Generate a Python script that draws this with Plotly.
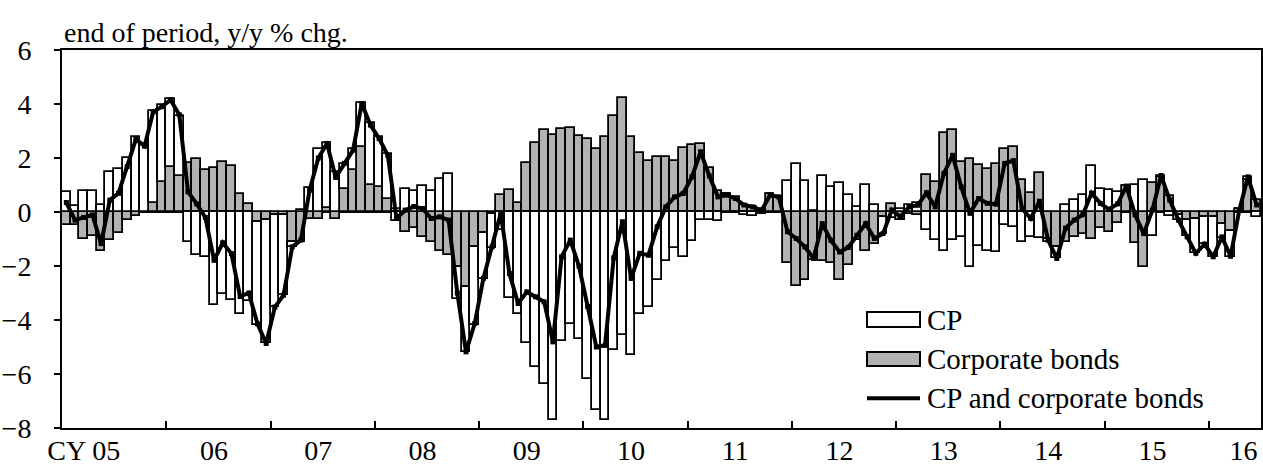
import pandas as pd
import plotly.graph_objects as go

# monthly, Jan 2005 - Jun 2016
months = pd.date_range("2005-01-01", "2016-06-01", freq="MS")

cp = [0.75, 0.23, 0.77, 0.77, 0.27, 1.47, 1.58, 2.0, 2.76, 2.48, 3.41, 2.84,
      2.49, 2.22, -1.1, -1.6, -1.67, -3.45, -3.05, -3.27, -3.79, -3.3, -3.83, -4.57,
      -3.42, -2.98, -0.18, 0.06, 0.9, 2.35, 2.41, 1.5, 0.92, 0.77, 1.63, 2.28,
      1.86, 1.64, -0.35, 0.85, 0.78, 0.96, 0.78, 1.24, 1.39, -1.17, -2.41, -2.9,
      -1.7, -1.23, -0.67, -3.2, -3.77, -4.84, -5.74, -6.36, -7.7, -4.79, -4.14, -4.71,
      -6.2, -7.35, -7.69, -5.12, -4.57, -5.28, -3.77, -3.52, -2.5, -1.83, -1.35, -1.67,
      -1.09, -0.31, -0.3, -0.33, 0.0, -0.05, -0.1, -0.16, -0.08, 0.0, 0.0, 1.15,
      1.76, 1.15, 0.05, 1.33, 0.93, 1.06, 0.64, 0.2, 0.99, 0.25, -0.6, -0.24,
      0.1, 0.25, 0.35, -0.68, -1.05, -1.44, -1.05, -0.93, -2.04, -1.25, -1.44, -1.48,
      -0.49, -0.55, -1.1, -0.93, -0.98, -0.1, -0.4, 0.27, 0.46, 0.62, 1.69, 0.87,
      0.81, 0.75, 0.0, 0.99, 1.2, -0.9, 0.05, -0.15, -0.2, -0.6, -1.28, -1.0,
      -1.45, -0.5, -0.95, 0.0, 0.1, -0.18]

bonds = [-0.47, -0.49, -1.0, -0.88, -1.44, -1.04, -0.77, -0.3, -0.14, -0.04, 0.34, 1.12,
         1.68, 1.33, 1.8, 1.98, 1.54, 1.64, 1.86, 1.7, 0.66, 0.28, -0.37, -0.3,
         -0.1, -0.1, -1.11, -1.1, -0.25, -0.27, 0.15, -0.25, 0.87, 1.55, 2.39, 1.0,
         0.93, 0.5, 0.1, -0.74, -0.61, -0.92, -1.1, -1.44, -1.6, -2.04, -2.77, -1.3,
         -0.77, -0.09, 0.62, 0.81, 0.34, 1.83, 2.54, 3.04, 2.85, 3.06, 3.1, 2.82,
         2.72, 2.33, 2.76, 3.56, 4.24, 2.79, 2.17, 1.9, 2.04, 2.02, 1.9, 2.38,
         2.48, 2.52, 1.64, 0.78, 0.66, 0.54, 0.25, 0.2, 0.1, 0.66, 0.56, -1.89,
         -2.75, -2.5, -1.79, -1.81, -1.89, -2.53, -1.97, -1.05, -1.46, -1.17, -0.2, 0.31,
         -0.3, -0.06, -0.1, 1.36, 1.12, 2.91, 3.04, 1.86, 1.96, 1.75, 1.61, 1.77,
         2.32, 2.42, 1.2, 0.69, 1.43, -1.0, -1.3, -1.1, -0.93, -0.8, -0.99, -0.58,
         -0.74, -0.4, 0.96, -1.13, -2.04, 1.08, 1.3, 0.6, -0.1, -0.3, -0.25, -0.2,
         -0.2, -0.45, -0.7, 0.1, 1.18, 0.44]

total = [0.35, -0.3, -0.2, -0.11, -1.17, 0.44, 0.69, 1.68, 2.69, 2.44, 3.71, 3.9,
         4.15, 3.6, 0.75, 0.3, -0.2, -1.79, -1.14, -1.54, -3.13, -3.0, -4.14, -4.87,
         -3.52, -3.08, -1.29, -1.04, 0.81, 2.0, 2.54, 1.28, 1.8, 2.29, 4.02, 3.22,
         2.72, 2.1, -0.24, 0.07, 0.2, 0.13, -0.24, -0.18, -0.3, -3.0, -5.18, -4.13,
         -2.46, -1.29, -0.05, -2.28, -3.39, -2.96, -3.14, -3.33, -4.81, -1.66, -1.04, -2.0,
         -3.5, -5.0, -4.94, -1.7, -0.36, -2.46, -1.53, -1.6, -0.55, 0.19, 0.56, 0.69,
         1.3, 2.23, 1.34, 0.56, 0.63, 0.5, 0.26, 0.19, 0.05, 0.63, 0.56, -0.73,
         -0.98, -1.29, -1.72, -0.43, -1.05, -1.48, -1.31, -0.86, -0.43, -0.98, -0.8, 0.07,
         -0.18, 0.19, 0.25, 0.71, 0.19, 1.43, 2.1, 0.93, -0.05, 0.5, 0.32, 0.29,
         1.8, 1.9, 0.13, -0.24, 0.4, -1.04, -1.72, -0.6, -0.3, -0.1, 0.7, 0.32,
         0.1, 0.3, 0.96, -0.1, -0.8, 0.07, 1.35, 0.44, -0.3, -0.92, -1.53, -1.19,
         -1.66, -0.92, -1.64, 0.07, 1.3, 0.26]

year_labels = ["CY 05", "06", "07", "08", "09", "10", "11", "12", "13", "14", "15", "16"]

x = list(range(len(months)))
FONT = "Liberation Serif, Times New Roman, serif"

fig = go.Figure()

# bonds stack first (nearest zero), CP on top of them
fig.add_trace(go.Bar(x=x, y=bonds, name="Corporate bonds",
                     marker=dict(color="#b2b2b2", line=dict(color="black", width=1.8))))
fig.add_trace(go.Bar(x=x, y=cp, name="CP",
                     marker=dict(color="white", line=dict(color="black", width=1.8))))
fig.add_trace(go.Scatter(x=x, y=total, name="CP and corporate bonds", mode="lines+markers",
                         line=dict(color="black", width=4),
                         marker=dict(symbol="square", size=5, color="black")))

# label positions: June of each year, first one sits further left
lab_pos = [2] + [12 * k + 5 for k in range(1, 11)] + [135.5]
year_edges = [12 * k - 0.5 for k in range(1, 12)]

fig.update_layout(
    template="none",
    width=1263, height=468,
    margin=dict(l=62, r=2, t=50, b=40, autoexpand=False),
    paper_bgcolor="white", plot_bgcolor="white",
    barmode="relative", bargap=0,
    showlegend=False,
    font=dict(family=FONT, size=28, color="black"),
)

fig.update_xaxes(
    automargin=False,
    range=[-0.5, len(months) - 0.5],
    tickmode="array", tickvals=lab_pos, ticktext=year_labels,
    ticks="", showgrid=False, zeroline=False,
    ticklabelstandoff=-4,
    showline=True, linecolor="black", linewidth=2, mirror=True,
    minor=dict(tickmode="array", tickvals=year_edges, ticks="inside",
               ticklen=7, tickwidth=2, tickcolor="black", showgrid=False),
    tickfont=dict(size=28),
)
fig.update_yaxes(
    automargin=False,
    range=[-8, 6], dtick=2, tickmode="linear", tick0=0,
    ticks="outside", ticklen=6, tickwidth=2, tickcolor="black",
    ticklabelstandoff=17,
    showgrid=False, zeroline=True, zerolinecolor="black", zerolinewidth=2,
    showline=True, linecolor="black", linewidth=2, mirror=True,
    tickfont=dict(size=28),
)

fig.add_annotation(text="end of period, y/y % chg.", xref="paper", yref="paper",
                   x=0.0, y=1.0, xanchor="left", yanchor="bottom", yshift=0,
                   showarrow=False, font=dict(size=28))

# hand-drawn legend in the lower right
lx0, lx1 = 0.6714, 0.7156
fig.add_shape(type="rect", xref="paper", yref="paper", x0=lx0, x1=lx1, y0=0.267, y1=0.307,
              fillcolor="white", line=dict(color="black", width=2))
fig.add_shape(type="rect", xref="paper", yref="paper", x0=lx0, x1=lx1, y0=0.164, y1=0.201,
              fillcolor="#b2b2b2", line=dict(color="black", width=2))
fig.add_shape(type="line", xref="paper", yref="paper", x0=lx0, x1=lx1, y0=0.079, y1=0.079,
              line=dict(color="black", width=4))
for txt, yy in [("CP", 0.287), ("Corporate bonds", 0.1825), ("CP and corporate bonds", 0.079)]:
    fig.add_annotation(text=txt, xref="paper", yref="paper", x=0.7198, y=yy,
                       xanchor="left", yanchor="middle", showarrow=False,
                       font=dict(size=29))

# drop the browser's default 8px body margin so the figure sits at (0, 0)
fig.write_html("out.html", config={"displayModeBar": False},
               post_script="document.body.style.margin='0px';")
